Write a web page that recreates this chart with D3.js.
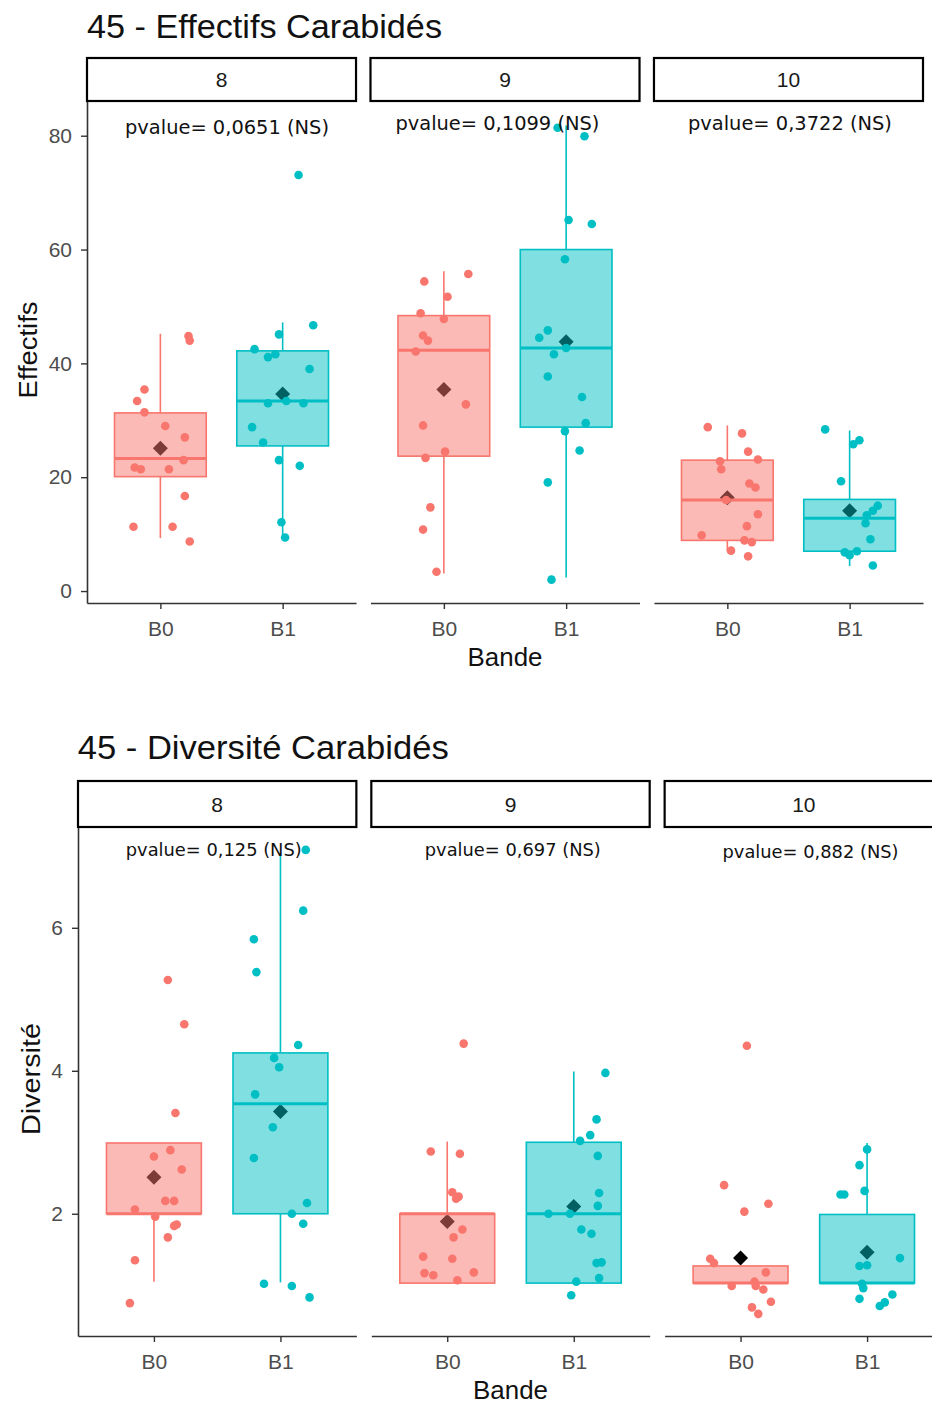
<!DOCTYPE html>
<html><head><meta charset="utf-8">
<script src="https://cdn.jsdelivr.net/npm/d3@7"></script>
<style>body{margin:0;background:#fff} svg{display:block}</style>
</head><body>
<svg id="c" width="932" height="1408"></svg>
<script>
const facets = ["8","9","10"];
const groups = ["B0","B1"];
const colors = ["#F8766D","#00BFC4"];

// ---------- Effectifs ----------
const effTicks = [0,20,40,60,80];
const effPvalues = ["pvalue= 0,0651 (NS)","pvalue= 0,1099 (NS)","pvalue= 0,3722 (NS)"];
// [category position (0 = B0, 1 = B1), value]
const effPvalueAt = [[0.545,81.4],[0.438,82.1],[0.512,82.1]];
// [lower whisker, Q1, median, Q3, upper whisker, mean] per facet
const effBoxB0 = [[9.3,20.1,23.3,31.3,45.2,25.1],[3.1,23.7,42.3,48.4,56.2,35.4],[7.0,8.9,16.0,23.0,29.1,16.4]];
const effBoxB1 = [[9.3,25.5,33.4,42.2,47.2,34.6],[2.4,28.8,42.7,60.0,81.8,43.8],[4.4,7.0,12.8,16.1,28.2,14.1]];
// points: [value, horizontal jitter in category units]
const eff8B0 = [[44.8,0.23],[44.0,0.24],[35.4,-0.13],[33.4,-0.19],[31.4,-0.13],[29.0,0.04],[27.0,0.20],[23.0,0.19],[21.7,-0.21],[21.4,-0.16],[21.4,0.07],[16.7,0.20],[11.3,-0.22],[11.3,0.10],[8.7,0.24]];
const eff8B1 = [[73.1,0.13],[46.7,0.25],[45.1,-0.03],[42.5,-0.23],[41.1,-0.12],[41.6,-0.06],[39.0,0.22],[33.0,-0.12],[33.4,0.03],[33.0,0.17],[28.8,-0.25],[26.1,-0.16],[23.0,-0.03],[22.0,0.14],[12.1,-0.01],[9.4,0.02]];
const eff9B0 = [[55.7,0.20],[54.4,-0.16],[51.7,0.03],[48.8,-0.19],[47.8,0.00],[44.9,-0.17],[44.0,-0.13],[42.1,-0.23],[32.8,0.18],[29.1,-0.17],[23.4,-0.15],[24.5,0.01],[14.7,-0.11],[10.8,-0.17],[3.4,-0.06]];
const eff9B1 = [[81.4,-0.07],[79.9,0.15],[65.2,0.02],[64.5,0.21],[58.3,-0.01],[45.8,-0.15],[44.5,-0.22],[41.6,-0.10],[42.7,0.0],[37.7,-0.15],[34.1,0.13],[29.5,0.16],[28.1,-0.01],[24.7,0.11],[19.1,-0.15],[2.0,-0.12]];
const eff10B0 = [[28.8,-0.16],[27.7,0.12],[24.5,0.17],[23.1,0.25],[22.8,-0.06],[21.4,-0.05],[18.9,0.18],[18.2,0.23],[16.0,-0.01],[13.5,0.25],[11.4,0.16],[9.8,-0.21],[8.9,0.14],[8.6,0.20],[7.1,0.03],[6.1,0.17]];
const eff10B1 = [[28.4,-0.20],[26.5,0.08],[25.8,0.03],[19.3,-0.07],[15.0,0.23],[14.1,0.19],[13.3,0.14],[11.9,0.13],[9.1,0.17],[6.8,-0.04],[6.3,0.0],[7.0,0.06],[4.5,0.19]];

// ---------- Diversité ----------
const divTicks = [2,4,6];
const divPvalues = ["pvalue= 0,125 (NS)","pvalue= 0,697 (NS)","pvalue= 0,882 (NS)"];
const divPvalueAt = [[0.473,7.09],[0.518,7.09],[0.553,7.06]];
const divBoxB0 = [[1.05,2.0,2.0,2.99,2.99,2.51],[1.03,1.03,2.0,2.0,3.01,1.89],[1.03,1.03,1.03,1.27,1.27,1.38]];
const divBoxB1 = [[1.04,2.0,3.54,4.25,7.04,3.43],[1.03,1.03,2.0,3.0,3.99,2.10],[1.03,1.03,1.03,1.99,2.99,1.46]];
const div8B0 = [[5.27,0.11],[4.65,0.24],[3.41,0.17],[2.89,0.13],[2.80,0.00],[2.62,0.22],[2.18,0.09],[2.18,0.16],[2.06,-0.15],[1.96,0.01],[1.83,0.16],[1.85,0.18],[1.67,0.11],[1.35,-0.15],[0.75,-0.19]];
const div8B1 = [[7.09,0.20],[6.24,0.18],[5.84,-0.21],[5.38,-0.19],[4.36,0.14],[4.18,-0.05],[4.05,-0.01],[3.67,-0.20],[3.21,-0.06],[2.78,-0.21],[2.15,0.21],[2.0,0.09],[1.86,0.18],[1.02,-0.13],[0.99,0.09],[0.83,0.23]];
const div9B0 = [[4.38,0.13],[2.87,-0.13],[2.84,0.10],[2.30,0.04],[2.21,0.07],[2.24,0.09],[1.78,0.12],[1.67,0.05],[1.40,-0.19],[1.37,0.04],[1.17,-0.18],[1.14,-0.11],[1.18,0.21],[1.07,0.08]];
const div9B1 = [[3.97,0.25],[3.32,0.18],[3.10,0.13],[3.02,0.05],[2.81,0.19],[2.29,0.20],[2.11,0.19],[2.0,-0.20],[2.0,-0.03],[1.78,0.06],[1.72,0.14],[1.31,0.18],[1.32,0.22],[1.10,0.20],[1.05,0.02],[0.86,-0.02]];
const div10B0 = [[4.35,0.05],[2.40,-0.13],[2.14,0.22],[2.03,0.03],[1.37,-0.24],[1.31,-0.21],[1.18,0.20],[0.99,-0.07],[1.05,0.11],[0.99,0.12],[0.94,0.18],[0.77,0.24],[0.69,0.09],[0.60,0.14]];
const div10B1 = [[2.90,0.0],[2.68,-0.06],[2.32,-0.02],[2.27,-0.21],[2.27,-0.18],[1.38,0.26],[1.27,-0.06],[1.28,0.0],[1.02,-0.04],[0.96,-0.03],[0.81,-0.06],[0.87,0.20],[0.76,0.14],[0.71,0.10]];

const svg = d3.select("#c");
const SANS = "'Liberation Sans', Arial, sans-serif";

function drawChart(cfg) {
  const g = svg.append("g");
  const fx = d3.scaleBand().domain(facets).range(cfg.panelX).paddingInner(0.051);
  const bw = fx.bandwidth();
  const x = d3.scalePoint().domain(groups).range([0, bw]).padding(0.6);
  const step = x.step();
  const y = d3.scaleLinear().domain(cfg.yDomain).range([cfg.plotBottom, cfg.plotTop]);

  // title
  g.append("text").attr("x", cfg.titleX).attr("y", cfg.titleY)
    .attr("font-family", SANS).attr("font-size", 33).attr("fill", "#111")
    .attr("textLength", cfg.titleLen).attr("lengthAdjust", "spacingAndGlyphs")
    .text(cfg.title);

  // y axis title
  g.append("text")
    .attr("transform", `translate(${cfg.yLabX},${cfg.yLabY}) rotate(-90)`)
    .attr("text-anchor", "middle").attr("font-family", SANS).attr("font-size", 26).attr("fill", "#111")
    .attr("textLength", cfg.yLabLen).attr("lengthAdjust", "spacingAndGlyphs")
    .text(cfg.yLabel);

  // x axis title
  g.append("text").attr("x", fx(facets[1]) + bw / 2).attr("y", cfg.plotBottom + 63)
    .attr("text-anchor", "middle").attr("font-family", SANS).attr("font-size", 26).attr("fill", "#111")
    .attr("textLength", 75).attr("lengthAdjust", "spacingAndGlyphs")
    .text("Bande");

  // y axis (left panel only)
  const ya = g.append("g").attr("transform", `translate(${fx(facets[0])},0)`)
    .call(d3.axisLeft(y).tickValues(cfg.ticks).tickSize(6).tickSizeOuter(0).tickPadding(9));
  ya.select(".domain").attr("stroke", "#333").attr("stroke-width", 1.6);
  ya.selectAll(".tick line").attr("stroke", "#333").attr("stroke-width", 1.4);
  ya.selectAll(".tick text").attr("font-family", SANS).attr("font-size", 21).attr("fill", "#4D4D4D");

  facets.forEach((f, i) => {
    const px = fx(f);
    const pg = g.append("g").attr("transform", `translate(${px},0)`);

    // strip
    pg.append("rect").attr("x", 0).attr("y", cfg.stripTop).attr("width", bw)
      .attr("height", cfg.plotTop - cfg.stripTop)
      .attr("fill", "#fff").attr("stroke", "#000").attr("stroke-width", 2.2);
    pg.append("text").attr("x", bw / 2).attr("y", (cfg.stripTop + cfg.plotTop) / 2)
      .attr("dy", "0.36em").attr("text-anchor", "middle")
      .attr("font-family", SANS).attr("font-size", 21).attr("fill", "#1A1A1A").text(f);

    // x axis
    const xa = pg.append("g").attr("transform", `translate(0,${cfg.plotBottom})`)
      .call(d3.axisBottom(x).tickSize(6).tickSizeOuter(0).tickPadding(12));
    xa.select(".domain").attr("stroke", "#333").attr("stroke-width", 1.6);
    xa.selectAll(".tick line").attr("stroke", "#333").attr("stroke-width", 1.4);
    xa.selectAll(".tick text").attr("font-family", SANS).attr("font-size", 21).attr("fill", "#4D4D4D");

    groups.forEach((grp, k) => {
      const s = cfg.boxes[k][i];
      const cx = x(grp);
      const col = colors[k];
      const [lw, q1, med, q3, uw, mean] = s;
      // mean diamond (drawn under the box)
      const d = 7.5;
      pg.append("path")
        .attr("transform", `translate(${cx},${y(mean)})`)
        .attr("d", `M0,${-d}L${d},0L0,${d}L${-d},0Z`).attr("fill", "#000");
      // whiskers
      pg.append("line").attr("x1", cx).attr("x2", cx).attr("y1", y(q3)).attr("y2", y(uw))
        .attr("stroke", col).attr("stroke-width", 1.6);
      pg.append("line").attr("x1", cx).attr("x2", cx).attr("y1", y(q1)).attr("y2", y(lw))
        .attr("stroke", col).attr("stroke-width", 1.6);
      // box
      pg.append("rect").attr("x", cx - 0.375 * step).attr("width", 0.75 * step)
        .attr("y", y(q3)).attr("height", Math.max(0, y(q1) - y(q3)))
        .attr("fill", col).attr("fill-opacity", 0.5)
        .attr("stroke", col).attr("stroke-width", 1.6);
      // median
      pg.append("line").attr("x1", cx - 0.375 * step).attr("x2", cx + 0.375 * step)
        .attr("y1", y(med)).attr("y2", y(med)).attr("stroke", col).attr("stroke-width", 3);
      // jittered points
      pg.selectAll(null).data(cfg.points[i][k]).enter().append("circle")
        .attr("cx", p => cx + p[1] * step).attr("cy", p => y(p[0]))
        .attr("r", 4.3).attr("fill", col);
    });

    // p-value annotation
    const pa = cfg.pvalAt[i];
    pg.append("text")
      .attr("x", x(groups[0]) + pa[0] * step).attr("y", y(pa[1]))
      .attr("dy", "0.33em").attr("text-anchor", "middle")
      .attr("font-family", "'DejaVu Sans', sans-serif").attr("font-size", cfg.pvalSize).attr("fill", "#111")
      .attr("textLength", cfg.pvalLen).attr("lengthAdjust", "spacingAndGlyphs")
      .text(cfg.pvals[i]);
  });
}

drawChart({
  title: "45 - Effectifs Carabidés", titleX: 87, titleY: 38, titleLen: 355,
  yLabel: "Effectifs", yLabX: 36.5, yLabY: 350, yLabLen: 97,
  panelX: [87, 923], stripTop: 58, plotTop: 101, plotBottom: 603,
  yDomain: [-2.1, 86.1], ticks: effTicks,
  boxes: [effBoxB0, effBoxB1],
  points: [[eff8B0, eff8B1], [eff9B0, eff9B1], [eff10B0, eff10B1]],
  pvals: effPvalues, pvalAt: effPvalueAt, pvalSize: 19, pvalLen: 204
});

drawChart({
  title: "45 - Diversité Carabidés", titleX: 77.7, titleY: 759.3, titleLen: 371,
  yLabel: "Diversité", yLabX: 40, yLabY: 1079, yLabLen: 112,
  panelX: [78, 943], stripTop: 781, plotTop: 827, plotBottom: 1336,
  yDomain: [0.29, 7.41], ticks: divTicks,
  boxes: [divBoxB0, divBoxB1],
  points: [[div8B0, div8B1], [div9B0, div9B1], [div10B0, div10B1]],
  pvals: divPvalues, pvalAt: divPvalueAt, pvalSize: 17.8, pvalLen: 176
});
</script>
</body></html>
